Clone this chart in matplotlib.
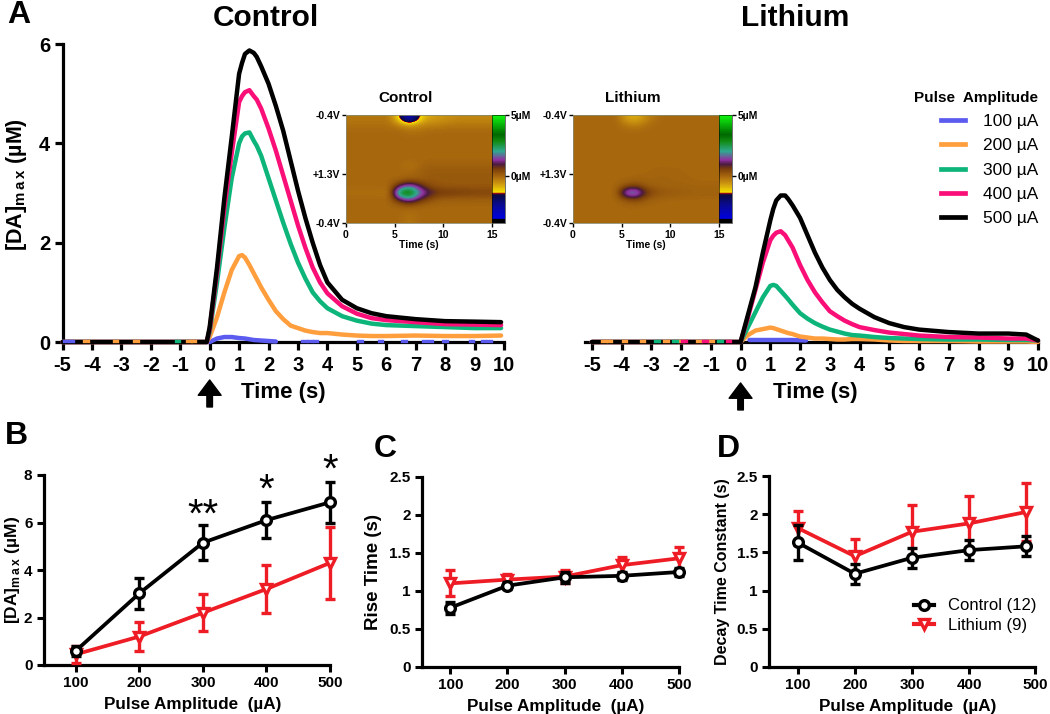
import numpy as np
import matplotlib
matplotlib.use('Agg')
import matplotlib.pyplot as plt
from matplotlib.colors import LinearSegmentedColormap, Normalize
from matplotlib.lines import Line2D

plt.rcParams['font.family'] = ['Liberation Sans', 'DejaVu Sans']
plt.rcParams['font.weight'] = 'bold'
plt.rcParams['axes.labelweight'] = 'bold'
plt.rcParams['axes.titleweight'] = 'bold'
plt.rcParams['axes.unicode_minus'] = False
plt.rcParams['mathtext.fontset'] = 'custom'
plt.rcParams['mathtext.bf'] = 'Liberation Sans:bold'
plt.rcParams['mathtext.rm'] = 'Liberation Sans:bold'
plt.rcParams['axes.linewidth'] = 2.3

W, H = 1050, 714

# time traces, panel A
t_ctrl = [-5, -0.1, 0, .25, .5, .75, 1, 1.1, 1.2, 1.35, 1.5, 1.6, 1.75, 2, 2.25, 2.5, 2.75, 3, 3.25, 3.5, 3.75, 4, 4.5, 5, 5.5, 6, 7, 8, 9, 9.9]
ctrl_200 = [0, 0, .1, .5, 1.0, 1.45, 1.73, 1.75, 1.7, 1.55, 1.38, 1.27, 1.1, .85, .62, .46, .33, .28, .23, .2, .18, .18, .15, .13, .12, .12, .13, .12, .12, .13]
ctrl_300 = [0, 0, .2, 1.2, 2.3, 3.3, 4.0, 4.14, 4.2, 4.22, 4.05, 3.95, 3.75, 3.3, 2.85, 2.4, 1.98, 1.6, 1.28, 1.0, .82, .68, .52, .43, .37, .34, .32, .3, .28, .28]
ctrl_400 = [0, 0, .25, 1.4, 2.7, 3.8, 4.83, 4.95, 5.03, 5.07, 4.95, 4.88, 4.7, 4.3, 3.85, 3.35, 2.85, 2.35, 1.9, 1.5, 1.2, .98, .72, .57, .48, .44, .4, .36, .35, .34]
ctrl_500 = [0, 0, .3, 1.5, 2.9, 4.13, 5.4, 5.62, 5.8, 5.87, 5.82, 5.74, 5.55, 5.2, 4.75, 4.25, 3.65, 3.05, 2.5, 2.0, 1.55, 1.2, .85, .68, .58, .52, .46, .42, .41, .40]
t_ctrl_100 = [-.1, 0, .25, .5, .75, 1, 1.2, 1.5, 1.75, 2, 2.25]
ctrl_100 = [0, 0, .07, .1, .1, .08, .07, .04, .03, .02, .01]

t_li = [-5, -0.1, 0, .25, .5, .75, 1, 1.1, 1.2, 1.35, 1.5, 1.6, 1.75, 2, 2.25, 2.5, 2.75, 3, 3.25, 3.5, 3.75, 4, 4.5, 5, 5.5, 6, 7, 8, 9, 9.6, 10]
li_200 = [0, 0, 0, .14, .23, .26, .29, .28, .26, .23, .2, .18, .16, .11, .09, .07, .07, .06, .05, .05, .06, .06, .05, .03, .02, .02, .02, .01, .01, .01, 0]
li_300 = [0, 0, 0, .3, .6, .9, 1.13, 1.15, 1.13, 1.03, .93, .86, .75, .58, .47, .38, .31, .25, .21, .17, .14, .13, .1, .08, .07, .06, .05, .05, .04, .04, .03]
li_400 = [0, 0, 0, .5, 1.05, 1.6, 2.05, 2.14, 2.2, 2.23, 2.15, 2.05, 1.9, 1.55, 1.25, 1.0, .8, .62, .52, .43, .36, .3, .24, .19, .16, .13, .1, .09, .07, .07, .03]
li_500 = [0, 0, 0, .55, 1.1, 1.8, 2.45, 2.68, 2.85, 2.95, 2.95, 2.88, 2.75, 2.5, 2.15, 1.8, 1.5, 1.25, 1.05, .9, .77, .67, .5, .38, .3, .25, .2, .17, .17, .15, .03]
t_li_100 = [.3, .75, 1.25, 1.75, 2.2]
li_100 = [.04, .04, .04, .04, .03]

amp_labels = ['100 µA', '200 µA', '300 µA', '400 µA', '500 µA']
amp_colors = ['#5B5BF0', '#FF9E3D', '#0DB57A', '#FA0F78', '#000000']

# coloured bits of trace showing on the zero line
ctrl_specks = {'#FF9E3D': [-4.2, -3.2, -2.5, -0.7, -0.55], '#0DB57A': [-1.1],
               '#5B5BF0': [-4.9, -4.7, 3.2, 3.4, 3.6, 5.1, 5.8, 6.6, 7.3, 7.5, 8.0, 8.9, 9.3, 9.5]}
li_specks = {'#FF9E3D': [-4.6, -4.4, -3.9, -3.3, -2.5, -2.0, -1.4, -1.0], '#0DB57A': [-2.8, -2.2, -0.7],
             '#FA0F78': [-1.9, -1.2, -0.4]}

# voltammogram grids, 16 rows (top to bottom) x 15 columns (0.5 ... 14.5 s), in uM
heat_ctrl = [
    [-.2, -.2, -.2, -.2, -.2, -1.3, -3.4, -1.3, -.7, -.6, -.5, -.4, -.4, -.4, -.4],
    [-.1, -.1, -.1, -.1, -.1, -.3, -.5, -.4, -.3, -.3, -.2, -.2, -.2, -.2, -.2],
    [0, 0, 0, 0, 0, 0, -.1, -.1, 0, 0, 0, 0, 0, 0, 0],
    [0, 0, 0, 0, 0, 0, 0, 0, 0, 0, 0, 0, 0, 0, 0],
    [0, 0, 0, 0, 0, 0, 0, 0, 0, 0, 0, 0, 0, 0, 0],
    [0, 0, 0, 0, 0, 0, 0, 0, 0, 0, 0, 0, 0, 0, 0],
    [0, 0, 0, 0, 0, 0, 0, 0, 0, 0, 0, 0, 0, 0, 0],
    [0, 0, 0, 0, 0, 0, -.2, 0, .1, .1, .1, .1, .1, .1, .1],
    [0, 0, 0, 0, 0, 0, 0, .1, .2, .2, .2, .2, .2, .2, .2],
    [0, 0, 0, 0, 0, 0, .1, .1, .2, .2, .2, .2, .2, .2, .2],
    [0, 0, 0, 0, 0, .9, 1.7, 1.0, .4, .25, .2, .2, .2, .2, .2],
    [-.1, -.1, -.1, -.1, -.2, 3.1, 3.7, 2.0, 1.15, .75, .7, .65, .6, .55, .55],
    [0, 0, 0, 0, 0, 1.0, 1.7, .9, .4, .15, .1, .1, .1, .1, .1],
    [0, 0, 0, 0, 0, 0, .1, 0, 0, 0, 0, 0, 0, 0, 0],
    [0, 0, 0, 0, 0, 0, -.1, 0, 0, 0, 0, 0, 0, 0, 0],
    [0, 0, 0, 0, 0, 0, -.2, 0, 0, 0, 0, 0, 0, 0, 0],
]
heat_li = [
    [0, 0, 0, 0, 0, -.7, -.9, -.4, -.1, 0, 0, 0, 0, 0, 0],
    [0, 0, 0, 0, 0, -.2, -.3, -.1, 0, 0, 0, 0, 0, 0, 0],
    [0, 0, 0, 0, 0, 0, 0, 0, 0, 0, 0, 0, 0, 0, 0],
    [0, 0, 0, 0, 0, 0, 0, 0, 0, 0, 0, 0, 0, 0, 0],
    [0, 0, 0, 0, 0, 0, 0, 0, 0, 0, 0, 0, 0, 0, 0],
    [0, 0, 0, 0, 0, 0, 0, 0, 0, 0, 0, 0, 0, 0, 0],
    [0, 0, 0, 0, 0, 0, 0, 0, 0, 0, 0, 0, 0, 0, 0],
    [0, 0, 0, 0, 0, 0, 0, 0, 0, 0, 0, 0, 0, 0, 0],
    [0, 0, 0, 0, 0, 0, 0, 0, .05, .05, .05, 0, 0, 0, 0],
    [0, 0, 0, 0, 0, 0, .05, .05, .05, .05, .05, .05, 0, 0, 0],
    [0, 0, 0, 0, 0, .3, .5, .15, .1, .05, .05, .05, .05, .05, .05],
    [0, 0, 0, 0, 0, 2.1, 2.2, .8, .35, .25, .2, .15, .1, .1, .1],
    [0, 0, 0, 0, 0, .3, .5, .15, .05, 0, 0, 0, 0, 0, 0],
    [0, 0, 0, 0, 0, 0, 0, 0, 0, 0, 0, 0, 0, 0, 0],
    [0, 0, 0, 0, 0, 0, 0, 0, 0, 0, 0, 0, 0, 0, 0],
    [0, 0, 0, 0, 0, 0, 0, 0, 0, 0, 0, 0, 0, 0, 0],
]

# panels B, C, D
amps = [100, 200, 300, 400, 500]
amp_names = ['100', '200', '300', '400', '500']
da_ctrl = [.6, 3.02, 5.15, 6.1, 6.85]
da_ctrl_err = [.2, .65, .73, .75, .87]
da_li = [.45, 1.2, 2.2, 3.2, 4.3]
da_li_err = [.35, .6, .77, 1.03, 1.5]
rise_ctrl = [.78, 1.07, 1.18, 1.2, 1.25]
rise_ctrl_err = [.08, .05, .07, .05, .05]
rise_li = [1.1, 1.15, 1.19, 1.34, 1.43]
rise_li_err = [.17, .07, .08, .11, .15]
decay_ctrl = [1.63, 1.22, 1.43, 1.53, 1.58]
decay_ctrl_err = [.23, .13, .13, .13, .13]
decay_li = [1.82, 1.45, 1.77, 1.88, 2.03]
decay_li_err = [.22, .22, .35, .36, .38]
sig_amps = [300, 400, 500]
sig_marks = ['**', '*', '*']
sig_y = [6.3, 7.35, 8.2]

da_label = '[DA]$_{\\mathbf{m\\,a\\,x}}$ (µM)'


def px_axes(x0, x1, y_top, y_bottom, **kw):
    return fig.add_axes([x0 / W, 1 - y_bottom / H, (x1 - x0) / W, (y_bottom - y_top) / H], **kw)


fig = plt.figure(figsize=(W / 100, H / 100), dpi=100)

heat_cmap = LinearSegmentedColormap.from_list('fscv', [
    (0.0, '#000000'), (0.035, '#000000'), (0.04, '#0000E0'), (0.17, '#0A0A90'), (0.26, '#0A0A40'),
    (0.275, '#C01010'), (0.285, '#F5E000'), (0.36, '#D09A10'), (0.43, '#A8680E'), (0.50, '#7A3E0A'),
    (0.545, '#4A1A40'), (0.585, '#9030A0'), (0.665, '#30A890'), (0.76, '#108A10'), (0.82, '#006800'),
    (1.0, '#10F810')])
heat_norm = Normalize(-3.8, 5)


def trace_panel(ax, traces, specks, title, title_x, left):
    for (t, y), c in zip(traces, amp_colors):
        ax.plot(t, y, color=c, lw=3.2, solid_joinstyle='round', solid_capstyle='round', clip_on=False, zorder=3)
    for c, where in specks.items():
        for s in where:
            ax.plot([s - .06, s + .06], [0.012, 0.012], color=c, lw=2.4, clip_on=False, zorder=4)
    ax.set_xlim(left, 10)
    ax.set_ylim(0, 6)
    ax.set_xticks(np.arange(-5, 11))
    ax.tick_params(axis='x', length=6, width=2.3, labelsize=14.5, pad=4)
    ax.spines['top'].set_visible(False)
    ax.spines['right'].set_visible(False)
    fig.text(title_x / W, 1 - 18 / H, title, fontsize=21.5, ha='center', va='center')


ax_a1 = px_axes(62.5, 504, 44, 342)
trace_panel(ax_a1, [(t_ctrl_100, ctrl_100), (t_ctrl, ctrl_200), (t_ctrl, ctrl_300), (t_ctrl, ctrl_400), (t_ctrl, ctrl_500)],
            ctrl_specks, 'Control', 266, -5)
ax_a1.set_yticks([0, 2, 4, 6])
ax_a1.tick_params(axis='y', length=6, width=2.3, labelsize=14.5, pad=3)
ax_a1.set_ylabel(da_label, fontsize=15.5, labelpad=7, y=.53)

ax_a2 = px_axes(585, 1038, 44, 342)
trace_panel(ax_a2, [(t_li_100, li_100), (t_li, li_200), (t_li, li_300), (t_li, li_400), (t_li, li_500)],
            li_specks, 'Lithium', 795, -5.23)
ax_a2.spines['left'].set_visible(False)
ax_a2.set_yticks([])
ax_a2.patch.set_alpha(0)

handles = [Line2D([], [], color=c, lw=3.4) for c in amp_colors]
leg = ax_a2.legend(handles, amp_labels, loc='upper right', bbox_to_anchor=(1.0, 0.842), frameon=False,
                   title='Pulse  Amplitude', fontsize=12.5, handlelength=1.4, handletextpad=1.0, labelspacing=.52,
                   title_fontproperties={'weight': 'bold', 'size': 11}, borderpad=0, borderaxespad=0)
leg._legend_box.align = 'right'
for txt in leg.get_texts():
    txt.set_fontweight('normal')

# stimulus arrows and time labels
for ax, label_x, drop in ((ax_a1, 283, 0), (ax_a2, 815, .01)):
    ax.annotate('', xy=(0, -0.1275 - drop), xycoords=('data', 'axes fraction'), xytext=(0, -0.218 - drop),
                textcoords=('data', 'axes fraction'),
                arrowprops=dict(width=4, headwidth=16.5, headlength=11, color='k', shrink=0))
    fig.text(label_x / W, 1 - 392 / H, 'Time (s)', fontsize=16, ha='center', va='center')


def heat_inset(x0, grid, title):
    ax = px_axes(x0, x0 + 146, 115, 223)
    im = ax.imshow(np.array(grid), cmap=heat_cmap, norm=heat_norm, extent=(0, 15, 0, 1), aspect='auto',
                   interpolation='bicubic', interpolation_stage='data')
    ax.set_xticks([0, 5, 10, 15])
    ax.set_yticks([0, .45, 1])
    ax.set_yticklabels(['-0.4V', '+1.3V', '-0.4V'])
    ax.tick_params(length=3, width=1, labelsize=7.5, pad=1)
    ax.tick_params(axis='x', pad=2)
    ax.set_xlabel('Time (s)', fontsize=7.5, labelpad=0)
    ax.set_title(title, fontsize=11, pad=9, x=.41)
    for s in ax.spines.values():
        s.set_linewidth(.6)
        s.set_color('#8a8a70')
    cax = px_axes(x0 + 146, x0 + 159, 115, 223)
    cb = fig.colorbar(im, cax=cax)
    cb.set_ticks([0, 5])
    cb.set_ticklabels(['0µM', '5µM'])
    cb.ax.tick_params(length=3, width=1, labelsize=7.5, pad=1)
    cb.outline.set_linewidth(.4)


heat_inset(346, heat_ctrl, 'Control')
heat_inset(573, heat_li, 'Lithium')


def amp_panel(box, ctrl, ctrl_err, li, li_err, ymax, yticks, ylabels, ylabel, ylabel_size, ylabel_pad, xleft, xright=500, ticks=amps):
    ax = px_axes(*box)
    lstyle = dict(elinewidth=2.4, capsize=3.8, capthick=2.5, lw=2.7, markersize=7, markeredgewidth=2.4,
                  markerfacecolor='white', clip_on=False)
    ax.errorbar(amps, li, yerr=li_err, color='#EE1C25', marker='v', zorder=3, **lstyle)
    ax.errorbar(amps, ctrl, yerr=ctrl_err, color='k', marker='o', zorder=4, **lstyle)
    ax.set_xlim(xleft, xright)
    ax.set_ylim(0, ymax)
    ax.set_xticks(ticks)
    ax.set_xticklabels(amp_names)
    ax.set_yticks(yticks)
    ax.set_yticklabels(ylabels)
    ax.tick_params(length=5, width=2.2, labelsize=11, pad=3)
    ax.set_xlabel('Pulse Amplitude  (µA)', fontsize=12.3, labelpad=5, x=.52)
    ax.set_ylabel(ylabel, fontsize=ylabel_size, labelpad=ylabel_pad)
    ax.spines['top'].set_visible(False)
    ax.spines['right'].set_visible(False)
    return ax


ax_b = amp_panel((43.5, 330, 475, 665), da_ctrl, da_ctrl_err, da_li, da_li_err, 8, [0, 2, 4, 6, 8],
                 ['0', '2', '4', '6', '8'], da_label, 12.5, 1, 49)
for x, m, y in zip(sig_amps, sig_marks, sig_y):
    ax_b.text(x, y, m, fontsize=29, ha='center', va='center', fontweight='normal')

rt_ticks = [0, .5, 1, 1.5, 2, 2.5]
rt_labels = ['0', '0.5', '1', '1.5', '2', '2.5']
ax_c = amp_panel((421.7, 679, 477, 667), rise_ctrl, rise_ctrl_err, rise_li, rise_li_err, 2.5, rt_ticks, rt_labels,
                 'Rise Time (s)', 13.5, 5, 50)
# the last tick of panel D sits past the last point in the original figure
ax_d = amp_panel((769, 1035, 476, 667), decay_ctrl, decay_ctrl_err, decay_li, decay_li_err, 2.5, rt_ticks, rt_labels,
                 'Decay Time Constant (s)', 11.5, 5, 50, 515, [100, 200, 300, 400, 515])
h_c = Line2D([], [], color='k', marker='o', mfc='white', ms=7, mew=2.4, lw=3)
h_l = Line2D([], [], color='#EE1C25', marker='v', mfc='white', ms=7, mew=2.4, lw=3)
leg_d = ax_d.legend([h_c, h_l], ['Control (12)', 'Lithium (9)'], loc='lower right', bbox_to_anchor=(1.005, .18),
                    frameon=False, fontsize=12, handlelength=1.2, handletextpad=.8, labelspacing=.25,
                    borderpad=0, borderaxespad=0)
for txt in leg_d.get_texts():
    txt.set_fontweight('normal')

for letter, x, y in (('A', 19, 15), ('B', 16, 436), ('C', 385, 449), ('D', 728, 449)):
    fig.text(x / W, 1 - y / H, letter, fontsize=23, ha='center', va='center')

fig.savefig('out.png', dpi=100)
